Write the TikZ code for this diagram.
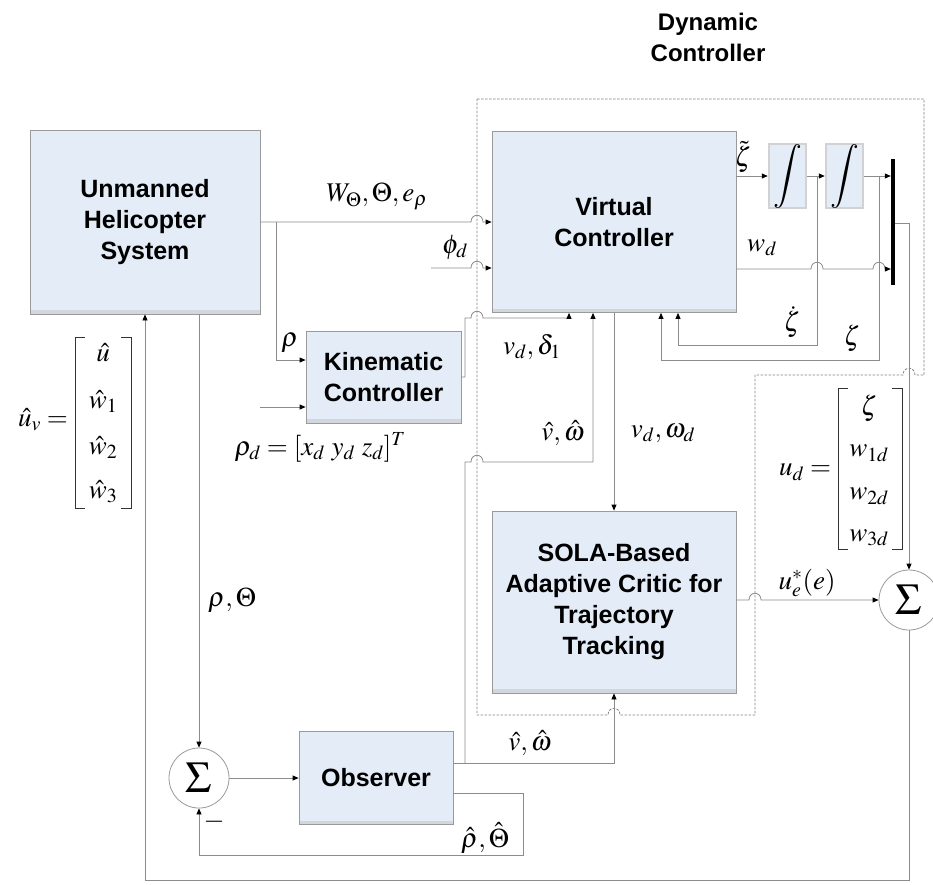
\documentclass[tikz,border=0pt]{standalone}
\usepackage{mathptmx}
\usepackage[no-math]{fontspec}
\setmainfont{Liberation Serif}
\newfontfamily\lsans{Liberation Sans}
\usetikzlibrary{arrows.meta,calc}

\definecolor{boxblue}{HTML}{E4ECF7}
\definecolor{edgegray}{HTML}{9A9A9A}
\definecolor{wiregray}{HTML}{8C8C8C}
\definecolor{stripgray}{HTML}{D3D6DB}

\tikzset{
  block/.style={draw=edgegray, fill=boxblue, line width=0.8pt, inner sep=0pt,
    align=center, font=\lsans\bfseries\fontsize{25}{31}\selectfont,
    path picture={\fill[stripgray] ([yshift=4pt]path picture bounding box.south west)
      rectangle (path picture bounding box.south east);}},
  intbox/.style={draw=gray!35, fill=boxblue, line width=2.5pt, inner sep=0pt,
    minimum width=37pt, minimum height=64pt, font=\fontsize{32}{32}\selectfont},
  wire/.style={draw=wiregray, line width=0.8pt},
  arr/.style={wire, -{Triangle[length=6pt,width=5pt,color=black]}},
  lbl/.style={font=\fontsize{27}{30}\selectfont, inner sep=0pt},
  sumnode/.style={circle, draw=edgegray, fill=white, minimum size=60pt,
    inner sep=0pt, line width=0.8pt, font=\fontsize{44}{44}\selectfont},
  dashbound/.style={draw=gray, line width=0.8pt, dash pattern=on 2.5pt off 1.5pt},
  brack/.style={draw=black!80, line width=0.8pt},
}

\begin{document}
\begin{tikzpicture}[x=1pt,y=-1pt]
\useasboundingbox (0,0) rectangle (933,884);

% dashed boundary of the dynamic controller
\draw[dashbound] (477,99) -- (924,99) -- (924,375) -- (915,375)
  .. controls (915,366) and (903,366) .. (903,375) -- (755,375) -- (755,715)
  -- (620,715) .. controls (620,706) and (608,706) .. (608,715) -- (477,715) -- cycle;
\node[font=\lsans\bfseries\fontsize{24}{31}\selectfont, align=center] (dyn) at (708,37) {Dynamic\\Controller};

% blocks
\node[block, minimum width=230pt, minimum height=184pt] (heli) at (145,222) {Unmanned\\Helicopter\\System};
\node[block, minimum width=155pt, minimum height=92pt] (kin) at (383.5,377) {Kinematic\\Controller};
\node[block, minimum width=244pt, minimum height=181pt] (vc) at (614,222) {Virtual\\Controller};
\node[block, minimum width=244pt, minimum height=182pt] (sola) at (614,602) {SOLA-Based\\Adaptive Critic for\\Trajectory\\Tracking};
\node[block, minimum width=154pt, minimum height=93pt] (obs) at (376,778) {Observer};
\node[intbox] (int1) at (787.5,176) {$\displaystyle\int$};
\node[intbox] (int2) at (844.5,176) {$\displaystyle\int$};
\node[fill=black, minimum width=4pt, minimum height=126pt, inner sep=0pt] (bar) at (893,222) {};
\node[sumnode] (sum1) at (199,778) {$\Sigma$};
\node[sumnode] (sum2) at (909,600) {$\Sigma$};

% branch points and free inputs
\coordinate (b1) at (276,222);
\coordinate (b2) at (465,763);
\coordinate (b3) at (817,176);
\coordinate (b4) at (879,176);
\coordinate (rhodsrc) at (260,407);
\coordinate (phisrc) at (431,268);

% helicopter outputs to the virtual controller
\draw[arr] (heli.east) -- (471,222) .. controls (471,213) and (483,213) .. (483,222) -- (vc.west);
\draw[arr] (b1) |- (kin.west |- 0,360);
\draw[arr] (rhodsrc) -- (kin.west |- rhodsrc);
\draw[arr] (phisrc) -- (471,268) .. controls (471,259) and (483,259) .. (483,268) -- (vc.west |- phisrc);

% kinematic controller output
\draw[arr] (kin.east) -- (465,377) -- (465,318) -- (471,318)
  .. controls (471,309) and (483,309) .. (483,318) -- (569,318) -- (569,0 |- vc.south);

% observer estimates
\draw[arr] (obs.east |- 0,763) -| (sola.south);
\draw[arr] (b2) -- (465,462) -- (471,462) .. controls (471,453) and (483,453) .. (483,462)
  -- (593,462) -- (593,0 |- vc.south);

% virtual controller to critic
\draw[arr] (vc.south) -- (sola.north);

% integrator chain
\draw[arr] (vc.east |- 0,176) -- (int1.west);
\draw[arr] (int1.east) -- (int2.west);
\draw[arr] (int2.east) -- (bar.west |- int2.east);
\draw[arr] (vc.east |- 0,269) -- (811,269) .. controls (811,260) and (823,260) .. (823,269)
  -- (873,269) .. controls (873,260) and (885,260) .. (885,269) -- (bar.west |- 0,269);
\draw[arr] (b3) -- (817,345) -- (678,345) -- (678,0 |- vc.south);
\draw[arr] (b4) -- (879,360) -- (661,360) -- (661,0 |- vc.south);

% control sum and feedback to the helicopter
\draw[arr] (bar.east |- 0,223) -| (sum2.north);
\draw[arr] (sola.east |- 0,600) -- (749,600) .. controls (749,591) and (761,591) .. (761,600) -- (sum2.west);
\draw[arr] (sum2.south) -- (909,880) -| (heli.south);

% output error loop
\draw[arr] (sum1.north |- heli.south) -- (sum1.north);
\draw[arr] (sum1.east) -- (obs.west);
\draw[arr] (obs.east |- 0,793) -- (523,793) -- (523,855) -| (sum1.south);

% matrices
\node[lbl] (uvlab) at (43,420) {$\hat u_v=$};
\node[lbl] (uv1) at (103,353) {$\hat u$};
\node[lbl] (uv2) at (103,401) {$\hat w_1$};
\node[lbl] (uv3) at (103,447) {$\hat w_2$};
\node[lbl] (uv4) at (103,492) {$\hat w_3$};
\draw[brack] (85,337) -- (75,337) -- (75,508) -- (85,508);
\draw[brack] (121,337) -- (131,337) -- (131,508) -- (121,508);

\node[lbl] (udlab) at (805,472) {$u_d=$};
\node[lbl] (ud1) at (869,408) {$\zeta$};
\node[lbl] (ud2) at (869,453) {$w_{1d}$};
\node[lbl] (ud3) at (869,496) {$w_{2d}$};
\node[lbl] (ud4) at (869,538) {$w_{3d}$};
\draw[brack] (848,388) -- (838,388) -- (838,549) -- (848,549);
\draw[brack] (892,388) -- (902,388) -- (902,549) -- (892,549);

% signal labels
\node[lbl] (lW) at (377,197) {$W_\Theta,\Theta,e_\rho$};
\node[lbl] (lrho) at (290,343) {$\rho$};
\node[lbl] (lrhod) at (320,447) {$\rho_d=[x_d\ y_d\ z_d]^T$};
\node[lbl] (lphi) at (455,247) {$\phi_d$};
\node[lbl] (lvd) at (532,347) {$v_d,\delta_1$};
\node[lbl] (lvw1) at (563,433) {$\hat v,\hat\omega$};
\node[lbl] (lvdw) at (663,433) {$v_d,\omega_d$};
\node[lbl] (lzt) at (743,157) {$\tilde\zeta$};
\node[lbl] (lwd) at (762,248) {$w_d$};
\node[lbl] (lzd) at (792,322) {$\dot\zeta$};
\node[lbl] (lz) at (852,338) {$\zeta$};
\node[lbl] (lue) at (807,583) {$u^*_e(e)$};
\node[lbl] (lrt) at (232,600) {$\rho,\Theta$};
\node[lbl] (lvw2) at (530,743) {$\hat v,\hat\omega$};
\node[lbl] (lrth) at (485,838) {$\hat\rho,\hat\Theta$};
\node[lbl] (lminus) at (214,822) {$-$};
\end{tikzpicture}
\end{document}
